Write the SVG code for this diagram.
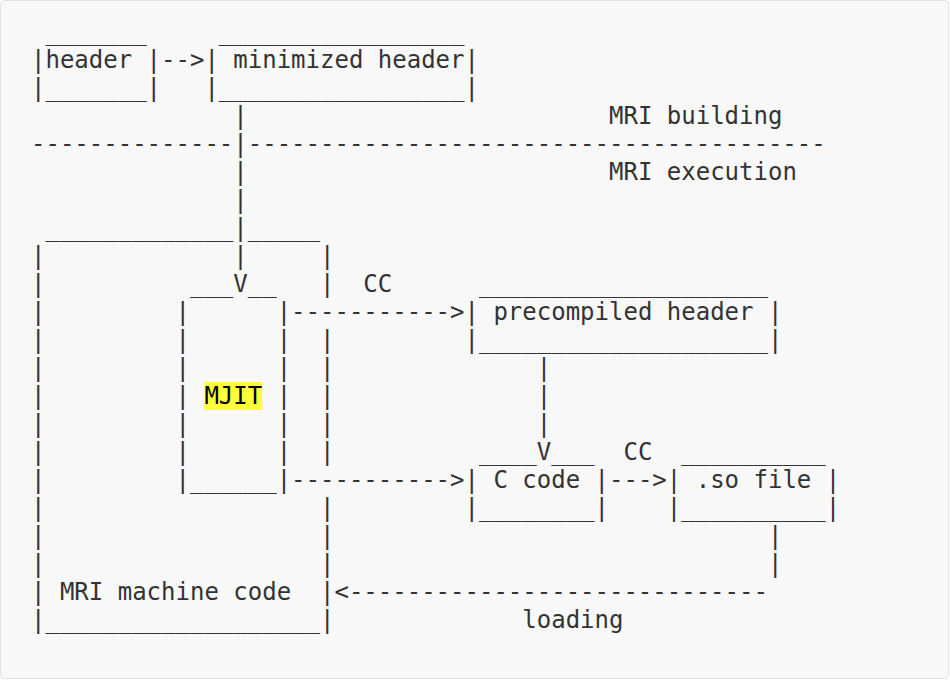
<svg xmlns="http://www.w3.org/2000/svg" width="950" height="680" viewBox="0 0 950 680" xml:space="preserve">
<style>
text{font-family:"DejaVu Sans Mono","Liberation Mono",monospace;font-size:24px;fill:#333;white-space:pre}
.hl{fill:#000}
</style>
<rect x="0.5" y="0.5" width="948" height="678" rx="4" fill="#f8f8f8" stroke="#e2e2e2"/>
<g id="header">
<text x="45.45" y="40">_______</text>
<text x="31" y="68">|header |</text>
<text x="31" y="96">|_______|</text>
</g>
<g id="minimized-header">
<text x="218.85" y="40">_________________</text>
<text x="204.4" y="68">| minimized header|</text>
<text x="204.4" y="96">|_________________|</text>
</g>
<g id="divider">
<text x="609" y="124">MRI building</text>
<text x="31" y="152">--------------</text>
<text x="247.75" y="152">----------------------------------------</text>
<text x="609" y="180">MRI execution</text>
</g>
<g id="mri-machine-code">
<text x="45.45" y="236">_____________</text>
<text x="247.75" y="236">_____</text>
<text x="31" y="264">|</text><text x="320" y="264">|</text>
<text x="31" y="292">|</text><text x="320" y="292">|</text>
<text x="31" y="320">|</text>
<text x="31" y="348">|</text><text x="320" y="348">|</text>
<text x="31" y="376">|</text><text x="320" y="376">|</text>
<text x="31" y="404">|</text><text x="320" y="404">|</text>
<text x="31" y="432">|</text><text x="320" y="432">|</text>
<text x="31" y="460">|</text><text x="320" y="460">|</text>
<text x="31" y="488">|</text>
<text x="31" y="516">|</text><text x="320" y="516">|</text>
<text x="31" y="544">|</text><text x="320" y="544">|</text>
<text x="31" y="572">|</text><text x="320" y="572">|</text>
<text x="31" y="600">| MRI machine code  |</text>
<text x="31" y="628">|___________________|</text>
</g>
<g id="mjit">
<text x="189.95" y="292">___</text>
<text x="247.75" y="292">__</text>
<text x="175.5" y="320">|</text><text x="276.65" y="320">|</text>
<text x="175.5" y="348">|</text><text x="276.65" y="348">|</text>
<text x="175.5" y="376">|</text><text x="276.65" y="376">|</text>
<text x="175.5" y="404">|</text><text x="276.65" y="404">|</text>
<rect x="204.4" y="382" width="57.8" height="28" fill="#ffff3a"/>
<text class="hl" x="204.4" y="404">MJIT</text>
<text x="175.5" y="432">|</text><text x="276.65" y="432">|</text>
<text x="175.5" y="460">|</text><text x="276.65" y="460">|</text>
<text x="175.5" y="488">|______|</text>
</g>
<g id="precompiled-header">
<text x="478.95" y="292">____________________</text>
<text x="464.5" y="320">| precompiled header |</text>
<text x="464.5" y="348">|____________________|</text>
</g>
<g id="c-code">
<text x="478.95" y="460">____</text>
<text x="551.2" y="460">___</text>
<text x="464.5" y="488">| C code |</text>
<text x="464.5" y="516">|________|</text>
</g>
<g id="so-file">
<text x="681.25" y="460">__________</text>
<text x="666.8" y="488">| .so file |</text>
<text x="666.8" y="516">|__________|</text>
</g>
<g id="connectors">
<text x="161.05" y="68">--&gt;</text>
<text x="233.3" y="124">|</text>
<text x="233.3" y="152">|</text>
<text x="233.3" y="180">|</text>
<text x="233.3" y="208">|</text>
<text x="233.3" y="236">|</text>
<text x="233.3" y="264">|</text>
<text x="233.3" y="292">V</text>
<text x="363.35" y="292">CC</text>
<text x="291.1" y="320">-----------&gt;</text>
<text x="291.1" y="488">-----------&gt;</text>
<text x="536.75" y="376">|</text>
<text x="536.75" y="404">|</text>
<text x="536.75" y="432">|</text>
<text x="536.75" y="460">V</text>
<text x="623.45" y="460">CC</text>
<text x="609" y="488">---&gt;</text>
<text x="767.95" y="544">|</text>
<text x="767.95" y="572">|</text>
<text x="334.45" y="600">&lt;-----------------------------</text>
<text x="522.3" y="628">loading</text>
</g>
</svg>
